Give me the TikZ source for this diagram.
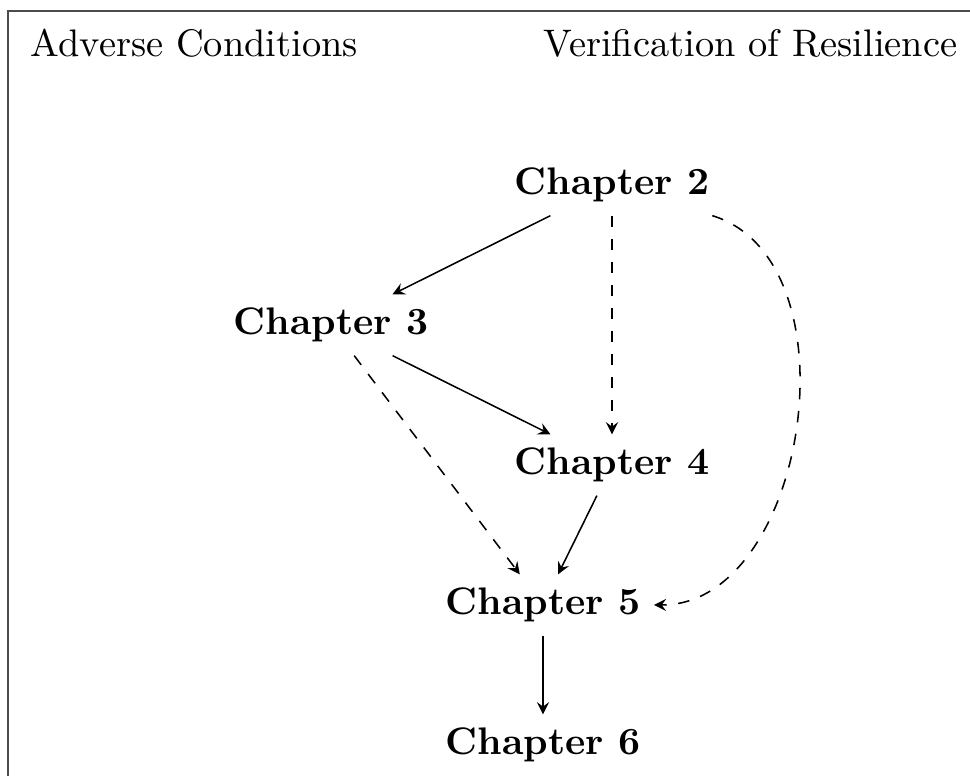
\documentclass[tikz,border=0pt]{standalone}
\usetikzlibrary{arrows}
\begin{document}
\begin{tikzpicture}[x=0.26042pt,y=-0.26042pt,
  chap/.style={font=\bfseries},
  heading/.style={inner sep=0pt},
  link/.style={-stealth},
  hint/.style={-stealth,dashed}]
  % page area and surrounding frame
  \clip (0,0) rectangle (970,776);
  \draw[black!70] (8,11) rectangle (1000,810);

  % column headings
  \node[heading,anchor=base west] (adverse) at (30,57) {Adverse Conditions};
  \node[heading,anchor=base east] (verif) at (958,57) {Verification of Resilience};

  % chapters
  \node[chap] (ch2) at (612,185) {Chapter 2};
  \node[chap] (ch3) at (331,325) {Chapter 3};
  \node[chap] (ch4) at (612,465) {Chapter 4};
  \node[chap] (ch5) at (543,605) {Chapter 5};
  \node[chap] (ch6) at (543,745) {Chapter 6};

  % dependencies
  \draw[link] (ch2) -- (ch3);
  \draw[hint] (ch2) -- (ch4);
  \draw[hint] (ch2) to[out=-17,in=0] (ch5);
  \draw[link] (ch3) -- (ch4);
  \draw[hint] (ch3) -- (ch5);
  \draw[link] (ch4) -- (ch5);
  \draw[link] (ch5) -- (ch6);
\end{tikzpicture}
\end{document}
